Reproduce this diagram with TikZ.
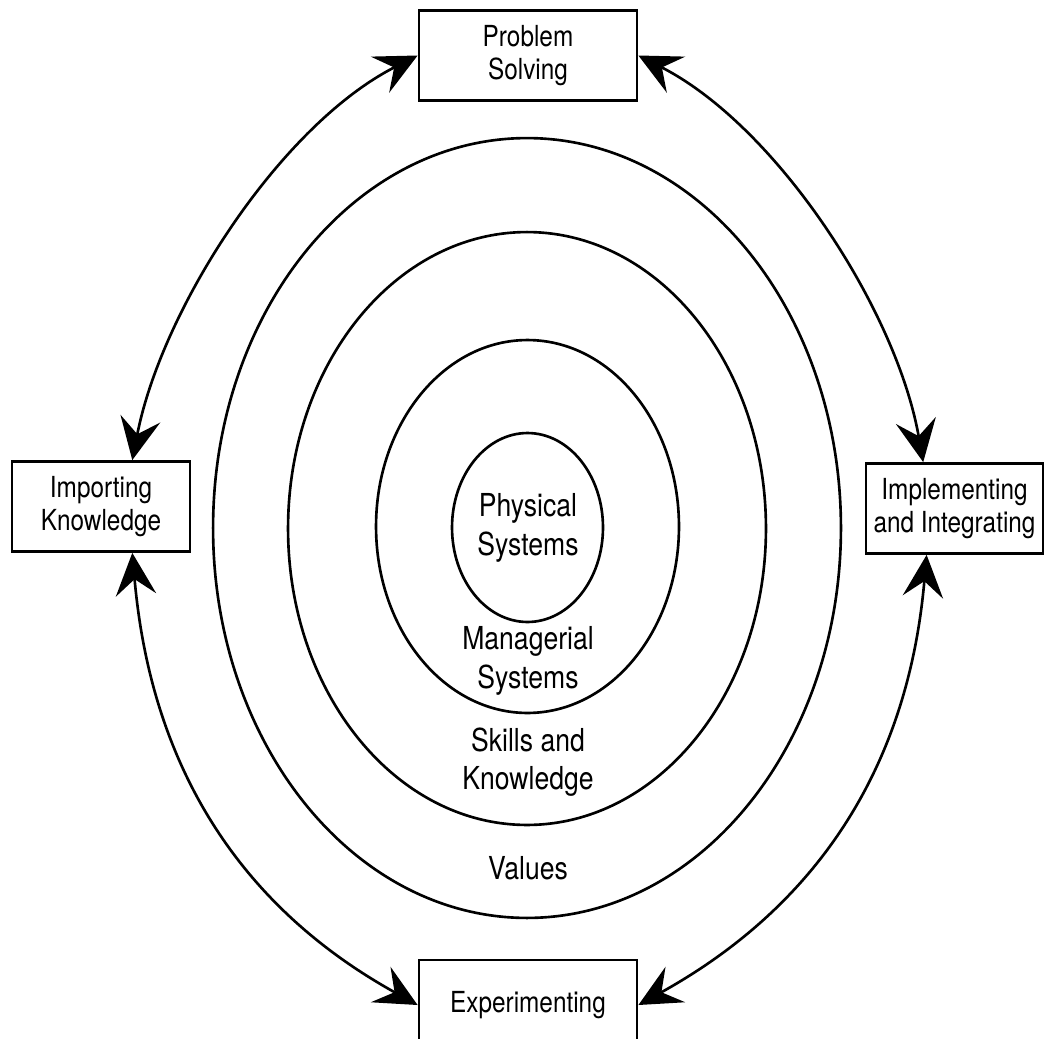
\documentclass[tikz,border=0pt]{standalone}
\usepackage{fontspec}
\setmainfont{TeX Gyre Heros}[FakeStretch=0.84]
\usetikzlibrary{arrows.meta}

\begin{document}
\begin{tikzpicture}[x=0.02cm, y=0.02cm, line width=1.5pt,
        box/.style={draw, line width=1.6pt, minimum width=4.36cm, minimum height=1.8cm,
            align=center, font=\fontsize{16.5}{19}\selectfont},
        ringtext/.style={align=center, font=\fontsize{18}{22}\selectfont},
        link/.style={{Stealth[length=24pt,width=23pt,inset=9pt]}-{Stealth[length=24pt,width=23pt,inset=9pt]}}]
    \useasboundingbox (0,0) rectangle (1044,-1038);
    % the four rings
    \draw (527,-528) ellipse [x radius=6.28cm, y radius=7.8cm];
    \draw (527,-528.5) ellipse [x radius=4.78cm, y radius=5.93cm];
    \draw (527.5,-526.5) ellipse [x radius=3.03cm, y radius=3.73cm];
    \draw (527.5,-527.5) ellipse [x radius=1.51cm, y radius=1.89cm];
    \node[ringtext] (phys) at (528,-528) {Physical\\Systems};
    \node[ringtext] (mgr) at (528,-661) {Managerial\\Systems};
    \node[ringtext] (skill) at (528,-762) {Skills and\\Knowledge};
    \node[ringtext] (val) at (528,-868) {Values};
    % the four activities
    \node[box] (ps) at (528,-55.5) {Problem\\Solving};
    \node[box, minimum width=3.56cm] (ik) at (101,-506.5) {Importing\\Knowledge};
    \node[box, minimum width=3.54cm] (ii) at (954.5,-508.5) {Implementing\\and Integrating};
    \node[box] (ex) at (528,-1005) {Experimenting};
    \draw[link] (ps.west) to[out=207, in=79, looseness=0.8] (ik.56);
    \draw[link] (ps.east) to[out=-27, in=100, looseness=0.8] (ii.124);
    \draw[link] (ik.-56) to[out=-85, in=151] (ex.west);
    \draw[link] (ii.-121) to[out=-95, in=29] (ex.east);
\end{tikzpicture}
\end{document}
